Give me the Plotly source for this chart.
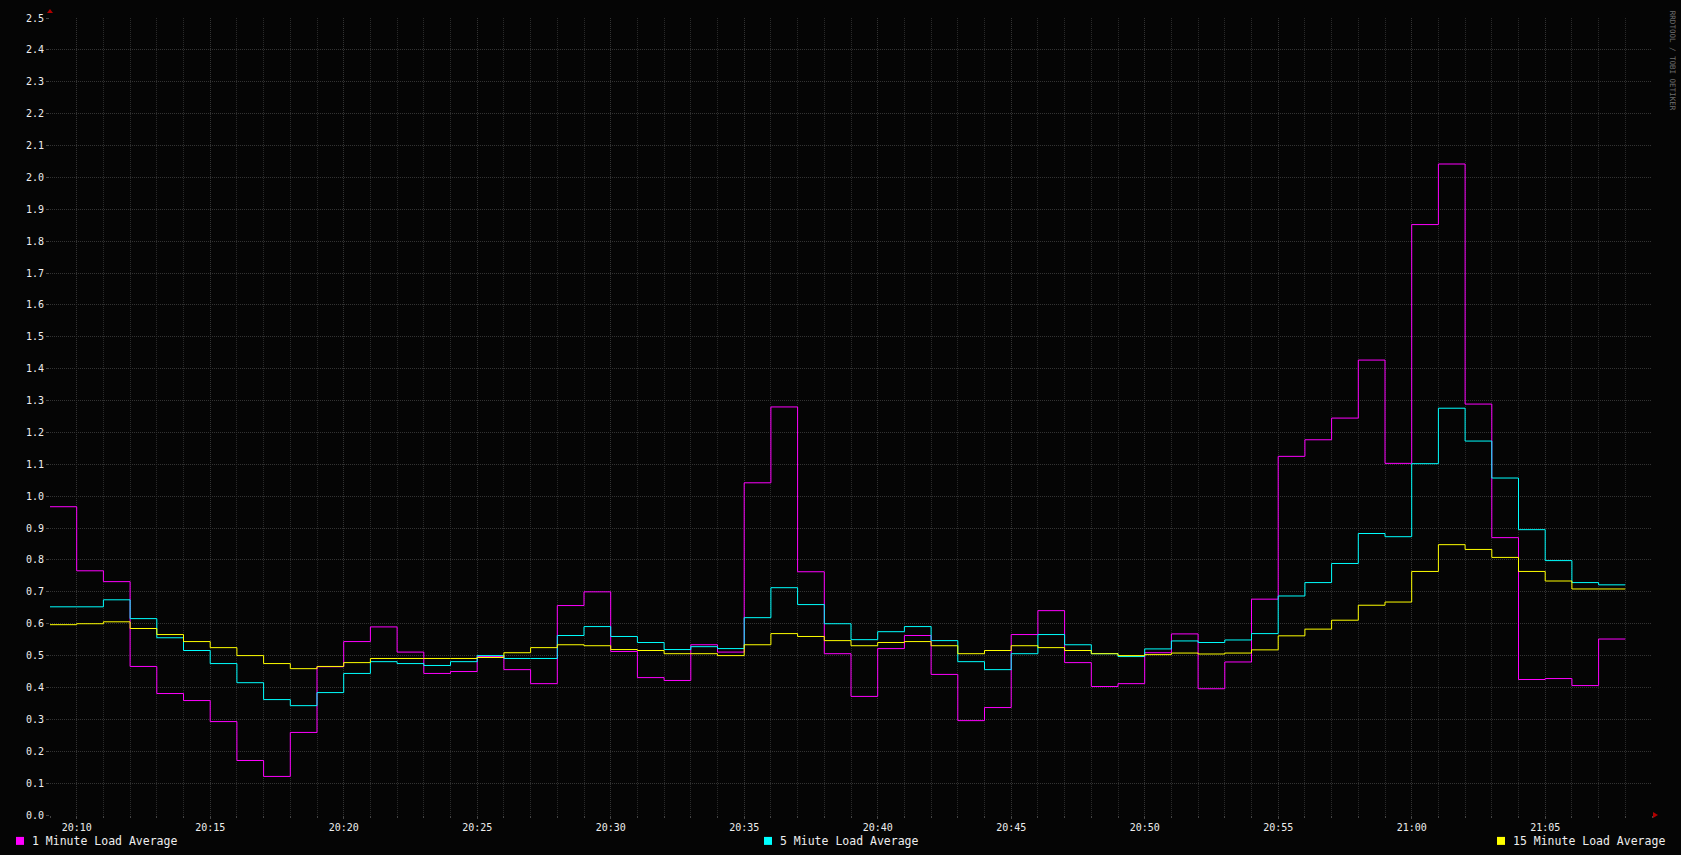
import pandas as pd
import plotly.graph_objects as go

# ---- data (one value per minute, interval start 20:09 .. 21:07) ----
start_time = "2024-01-01 20:09"
load_1min = [0.967, 0.766, 0.732, 0.466, 0.381, 0.359, 0.293, 0.171, 0.121, 0.259,
             0.465, 0.544, 0.590, 0.511, 0.444, 0.450, 0.497, 0.456, 0.412, 0.657,
             0.700, 0.513, 0.431, 0.422, 0.534, 0.511, 1.042, 1.280, 0.763, 0.506,
             0.372, 0.522, 0.563, 0.441, 0.296, 0.337, 0.566, 0.641, 0.478, 0.403,
             0.412, 0.509, 0.568, 0.396, 0.480, 0.677, 1.125, 1.177, 1.245, 1.427,
             1.103, 1.852, 2.042, 1.289, 0.870, 0.425, 0.428, 0.406, 0.552]
load_5min = [0.653, 0.653, 0.675, 0.616, 0.556, 0.516, 0.475, 0.415, 0.362, 0.343,
             0.384, 0.444, 0.481, 0.475, 0.469, 0.481, 0.500, 0.491, 0.491, 0.563,
             0.591, 0.560, 0.541, 0.519, 0.528, 0.522, 0.619, 0.713, 0.660, 0.600,
             0.550, 0.575, 0.591, 0.547, 0.481, 0.456, 0.506, 0.566, 0.534, 0.506,
             0.497, 0.521, 0.546, 0.541, 0.549, 0.569, 0.687, 0.729, 0.789, 0.883,
             0.873, 1.102, 1.276, 1.173, 1.057, 0.895, 0.798, 0.729, 0.722]
load_15min = [0.597, 0.600, 0.606, 0.585, 0.566, 0.544, 0.525, 0.500, 0.475, 0.459,
              0.466, 0.478, 0.491, 0.491, 0.491, 0.491, 0.494, 0.509, 0.525, 0.534,
              0.531, 0.519, 0.516, 0.506, 0.506, 0.500, 0.534, 0.569, 0.560, 0.547,
              0.531, 0.541, 0.544, 0.531, 0.506, 0.516, 0.531, 0.525, 0.516, 0.506,
              0.500, 0.503, 0.508, 0.505, 0.508, 0.518, 0.562, 0.583, 0.611, 0.658,
              0.668, 0.764, 0.848, 0.833, 0.808, 0.764, 0.734, 0.709, 0.709]
series_names = ["1 Minute Load Average", "5 Miute Load Average", "15 Minute Load Average"]
series_colors = ["#ff00ff", "#00ffff", "#ffff00"]
y_ticks = [round(i * 0.1, 1) for i in range(26)]

# ---- figure ----
W, H = 1681, 855
ML, MR, MT, MB = 50, 29, 15, 40
PW = W - ML - MR
PH = H - MT - MB

n = len(load_1min)
times = pd.date_range(start_time, periods=n + 1, freq="1min")
x_start = pd.Timestamp(start_time)
x_end = x_start + pd.Timedelta(minutes=60)

fig = go.Figure()
for name, vals, col in zip(series_names, [load_1min, load_5min, load_15min], series_colors):
    fig.add_trace(go.Scatter(
        x=times, y=list(vals) + [vals[-1]], mode="lines", name=name,
        line=dict(color=col, width=1, shape="hv"), showlegend=False,
        hoverinfo="x+y+name",
    ))

grid_col = "#333333"
fig.update_layout(
    width=W, height=H,
    margin=dict(l=ML, r=MR, t=MT, b=MB),
    paper_bgcolor="#050505", plot_bgcolor="#050505",
    font=dict(family="DejaVu Sans Mono", color="#eeeeee", size=10),
    xaxis=dict(
        type="date", range=[x_start, x_end],
        tickformat="%H:%M", dtick=5 * 60 * 1000,
        tick0="2024-01-01 20:10",
        showgrid=True, gridcolor=grid_col, gridwidth=1, griddash="1px,1px",
        minor=dict(dtick=60 * 1000, showgrid=True, gridcolor="#2a2a2a",
                   griddash="1px,1px", ticks="outside", ticklen=2, tickcolor="#444"),
        ticks="outside", ticklen=3, tickcolor="#444",
        zeroline=False, showline=False,
        tickfont=dict(size=10, color="#eeeeee"),
    ),
    yaxis=dict(
        range=[0, 2.5], tickvals=y_ticks, ticktext=[f"{v:.1f}" for v in y_ticks],
        showgrid=True, gridcolor=grid_col, gridwidth=1, griddash="1px,1px",
        ticks="outside", ticklen=3, tickcolor="#444",
        zeroline=False, showline=False,
        tickfont=dict(size=10, color="#eeeeee"),
    ),
)

# axis arrows (rrdtool style)
fig.add_shape(type="path", xref="paper", yref="paper", xsizemode="pixel", ysizemode="pixel",
              xanchor=0, yanchor=1, path="M-3,5 L3,5 L0,9 Z",
              fillcolor="#b00000", line=dict(width=0))
fig.add_shape(type="path", xref="paper", yref="paper", xsizemode="pixel", ysizemode="pixel",
              xanchor=1, yanchor=0, path="M1,-3 L1,3 L6,0 Z",
              fillcolor="#b00000", line=dict(width=0))

# legend row
legend_px = [16, 764, 1497]
legend_y_px = 841
for name, col, px in zip(series_names, series_colors, legend_px):
    xp = (px - ML) / PW
    yp = -(legend_y_px - (H - MB)) / PH
    fig.add_shape(type="rect", xref="paper", yref="paper", xsizemode="pixel", ysizemode="pixel",
                  xanchor=xp, yanchor=yp, x0=0, x1=8, y0=-4, y1=4,
                  fillcolor=col, line=dict(width=0))
    fig.add_annotation(xref="paper", yref="paper", x=(px + 14 - ML) / PW, y=yp,
                       xanchor="left", yanchor="middle", text=name, showarrow=False,
                       font=dict(family="DejaVu Sans Mono", size=11.5, color="#eeeeee"))

# watermark (vertical, top right)
fig.add_annotation(xref="paper", yref="paper", x=(1672 - ML) / PW, y=1.0 - (58 - MT) / PH,
                   xanchor="center", yanchor="middle", text="RRDTOOL / TOBI OETIKER",
                   textangle=90, showarrow=False,
                   font=dict(family="DejaVu Sans Mono", size=7.5, color="#707070"))

fig.write_html("out.html", config={"displayModeBar": False},
               post_script="document.body.style.margin='0px';document.body.style.background='#050505';")
